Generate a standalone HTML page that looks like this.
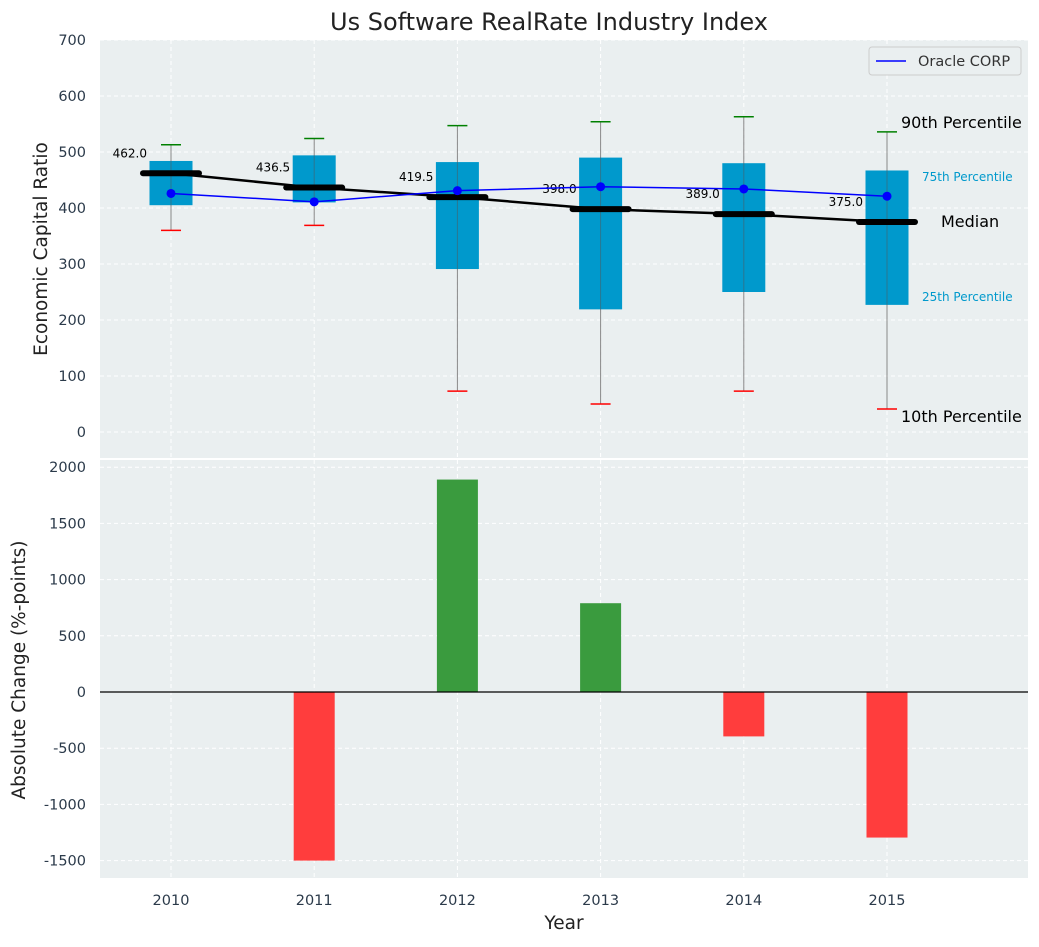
<!DOCTYPE html>
<html><head><meta charset="utf-8"><style>
body{margin:0;background:#fff;font-family:"Liberation Sans","DejaVu Sans",sans-serif}
svg text{font-family:"DejaVu Sans","Liberation Sans",sans-serif}
</style></head><body>
<svg id="c" width="1039" height="942" xmlns="http://www.w3.org/2000/svg"></svg>
<script>
const years=["2010","2011","2012","2013","2014","2015"];
const q1=[405,410,291,219,250,227];
const q3=[484,494,482,490,480,467];
const p10=[360,369,73,50,73,41];
const p90=[513,524,547,554,563,536];
const medians=[462,436.5,419.5,398,389,375];
const oracle=[426,411,431,438,434,421];
const changes=[0,-1500,1890,790,-395,-1295];
const topTicks=[0,100,200,300,400,500,600,700];
const botTicks=[-1500,-1000,-500,0,500,1000,1500,2000];

const NS="http://www.w3.org/2000/svg";
const svg=document.getElementById('c');
function el(t,a,p){const e=document.createElementNS(NS,t);for(const k in a)e.setAttribute(k,a[k]);(p||svg).appendChild(e);return e;}
const X=i=>171+i*143.2;
const Yt=v=>432-v*0.56;
const Yb=v=>692-v*0.1124;
const L=100,R=1028;

let bg=el('rect',{x:L,y:40,width:R-L,height:418,fill:'#eaeff0'});

let bg2=el('rect',{x:L,y:460,width:R-L,height:418,fill:'#eaeff0'});


years.forEach((y,i)=>{
 el('line',{x1:X(i),x2:X(i),y1:40,y2:458,stroke:'#fff','stroke-dasharray':'4,3'});
 el('line',{x1:X(i),x2:X(i),y1:460,y2:878,stroke:'#fff','stroke-dasharray':'4,3'});
 let t=el('text',{x:X(i),y:905,'text-anchor':'middle','font-size':14.5,fill:'#2b3a4a'});t.textContent=y;
 
});
topTicks.forEach(v=>{
 el('line',{x1:L,x2:R,y1:Yt(v),y2:Yt(v),stroke:'#fff','stroke-dasharray':'4,3'});
 let t=el('text',{x:86,y:Yt(v)+5,'text-anchor':'end','font-size':14.5,fill:'#2b3a4a'});t.textContent=v;
 
});
botTicks.forEach(v=>{
 el('line',{x1:L,x2:R,y1:Yb(v),y2:Yb(v),stroke:'#fff','stroke-dasharray':'4,3'});
 let t=el('text',{x:86,y:Yb(v)+5,'text-anchor':'end','font-size':14.5,fill:'#2b3a4a'});t.textContent=v;
 
});

years.forEach((y,i)=>{
 const x=X(i);
 let w=el('line',{x1:x,x2:x,y1:Yt(p90[i]),y2:Yt(p10[i]),stroke:'#888','stroke-width':1});
 
 let b=el('rect',{x:x-21.5,y:Yt(q3[i]),width:43,height:Yt(q1[i])-Yt(q3[i]),fill:'#0099cc'});
 
 el('line',{x1:x,x2:x,y1:Yt(q3[i]),y2:Yt(q1[i]),stroke:'#555','stroke-width':1,opacity:0.5});
 let h=el('line',{x1:x-10,x2:x+10,y1:Yt(p90[i]),y2:Yt(p90[i]),stroke:'green','stroke-width':1.5});
 
 let l=el('line',{x1:x-10,x2:x+10,y1:Yt(p10[i]),y2:Yt(p10[i]),stroke:'red','stroke-width':1.5});
 
});
let mp=el('polyline',{points:medians.map((m,i)=>X(i)+','+Yt(m)).join(' '),fill:'none',stroke:'#000','stroke-width':2.5});

years.forEach((y,i)=>{
 let m=el('line',{x1:X(i)-28,x2:X(i)+28,y1:Yt(medians[i]),y2:Yt(medians[i]),stroke:'#000','stroke-width':6,'stroke-linecap':'round'});
 
 let t=el('text',{x:X(i)-24,y:Yt(medians[i])-16,'text-anchor':'end','font-size':12,fill:'#000'});t.textContent=medians[i].toFixed(1);
 
});
let op=el('polyline',{points:oracle.map((m,i)=>X(i)+','+Yt(m)).join(' '),fill:'none',stroke:'blue','stroke-width':1.5});

oracle.forEach((m,i)=>{let c=el('circle',{cx:X(i),cy:Yt(m),r:4.5,fill:'blue'});
 });

[[128,'90th Percentile',16,'#000',901],[181,'75th Percentile',12,'#0099cc',922],[227,'Median',16,'#000',941],[301,'25th Percentile',12,'#0099cc',922],[422,'10th Percentile',16,'#000',901]].forEach(a=>{
 let t=el('text',{x:a[4],y:a[0],'font-size':a[2],fill:a[3]});t.textContent=a[1];
 
});

let lg=el('g',{});
el('rect',{x:869,y:47,width:152,height:28,rx:3,fill:'#eaeff0',stroke:'#ccc'},lg);
el('line',{x1:876,x2:906,y1:61,y2:61,stroke:'blue','stroke-width':1.5},lg);
let lt=el('text',{x:918,y:66,'font-size':14.5,fill:'#333'},lg);lt.textContent='Oracle CORP';

const bw=41;
changes.forEach((v,i)=>{
 if(v===0)return;
 let r=el('rect',{x:X(i)-bw/2,y:Math.min(Yb(v),Yb(0)),width:bw,height:Math.abs(Yb(v)-Yb(0)),fill:v>0?'#3a9b3e':'#ff3d3d'});
 
});
el('line',{x1:L,x2:R,y1:Yb(0),y2:Yb(0),stroke:'#000','stroke-width':1.2});

let tt=el('text',{x:549,y:30,'text-anchor':'middle','font-size':24,fill:'#222'});tt.textContent='Us Software RealRate Industry Index';

let ya=el('text',{x:47,y:249,'text-anchor':'middle','font-size':18.5,fill:'#222',transform:'rotate(-90 47 249)'});ya.textContent='Economic Capital Ratio';

let yb=el('text',{x:25,y:670,'text-anchor':'middle','font-size':18.5,fill:'#222',transform:'rotate(-90 25 670)'});yb.textContent='Absolute Change (%-points)';

let xa=el('text',{x:564,y:929,'text-anchor':'middle','font-size':18.5,fill:'#222'});xa.textContent='Year';

</script>
</body></html>
